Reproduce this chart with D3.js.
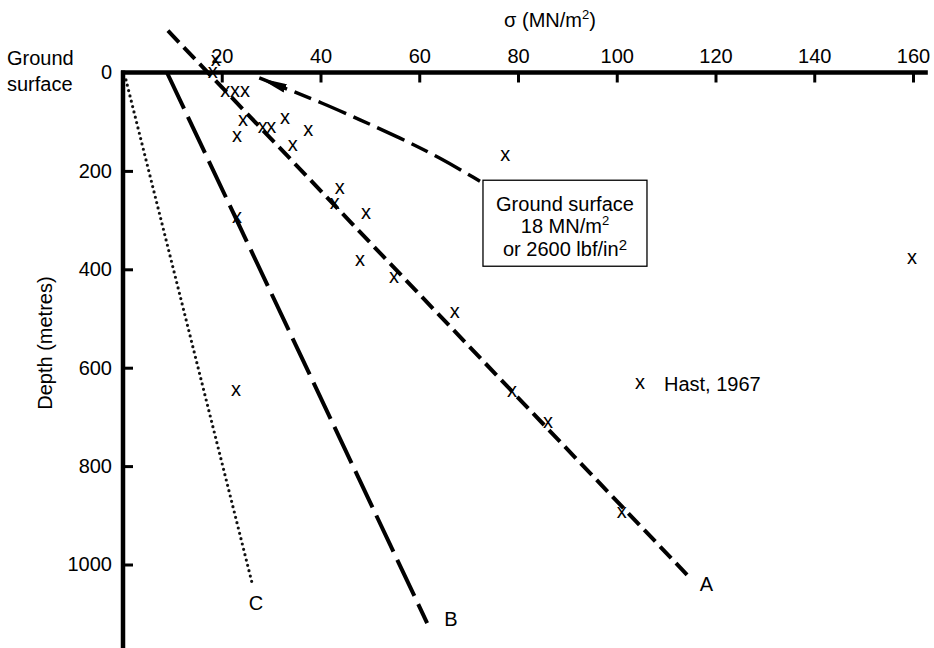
<!DOCTYPE html>
<html>
<head>
<meta charset="utf-8">
<script src="https://cdn.jsdelivr.net/npm/d3@7"></script>
<style>
  body { margin: 0; background: #fff; }
  svg { font-family: Arial, "Liberation Sans", Helvetica, sans-serif; }
</style>
</head>
<body>
<div id="chart"></div>
<script>
// stress ticks (top) and depth ticks (left)
const sigmaTicks = [20, 40, 60, 80, 100, 120, 140, 160]
const depthTicks = [0, 200, 400, 600, 800, 1000]

// measured points (sigma MN/m2, depth m)
const hastPoints = [
  [18.8, -25], [18.2, 0],
  [20.7, 39], [22.7, 39], [24.7, 39],
  [24.3, 97], [23.1, 130], [28.3, 112], [30.0, 112],
  [32.8, 94], [34.4, 148], [37.5, 118],
  [77.4, 169],
  [43.9, 235], [42.9, 266], [49.2, 286], [23.1, 294],
  [159.8, 378], [48.0, 382], [54.9, 416],
  [67.2, 487],
  [22.9, 646], [78.8, 648], [86.1, 711],
  [101.0, 895]
]

// trend lines
const lineA = [[9.1, -85], [115.2, 1031]]
const lineB = [[8.9, 0], [61.6, 1119]]
const lineC = [[0.6, 15], [26.3, 1044]]
// ground surface curve (arrow at its start)
const groundCurve = [[27.6, 11], [33.8, 36], [39.9, 60], [48.0, 96], [56.1, 133], [64.2, 173], [72.3, 221]]

const W = 934, H = 648
const FS = 20

const svg = d3.select("#chart").append("svg")
    .attr("width", W)
    .attr("height", H)

const x = d3.scaleLinear().domain([0, 160]).range([123, 913])
const y = d3.scaleLinear().domain([0, 1000]).range([72.5, 564.5])

// arrow marker for the ground surface curve (tip at the start point)
svg.append("defs").append("marker")
    .attr("id", "arrow")
    .attr("viewBox", "0 0 10 10")
    .attr("refX", 0)
    .attr("refY", 5)
    .attr("markerWidth", 8)
    .attr("markerHeight", 2.6)
    .attr("markerUnits", "strokeWidth")
    .attr("orient", "auto")
    .attr("preserveAspectRatio", "none")
    .append("path")
    .attr("d", "M0,5 L10,0 L10,10 Z")
    .attr("fill", "#000")

// axes
const topAxis = d3.axisTop(x).tickValues(sigmaTicks).tickFormat(d3.format("d"))
    .tickSize(-10).tickSizeOuter(0).tickPadding(10)
const gTop = svg.append("g").attr("transform", `translate(0,${y(0)})`).call(topAxis)
gTop.select(".domain").remove()
gTop.selectAll(".tick line").attr("stroke", "#000").attr("stroke-width", 3)
gTop.selectAll(".tick text").attr("font-size", FS).attr("fill", "#000")

const leftAxis = d3.axisLeft(y).tickValues(depthTicks).tickFormat(d3.format("d"))
    .tickSize(-10).tickSizeOuter(0).tickPadding(11)
const gLeft = svg.append("g").attr("transform", `translate(${x(0)},0)`).call(leftAxis)
gLeft.select(".domain").remove()
gLeft.selectAll(".tick line").attr("stroke", "#000").attr("stroke-width", 3)
    .filter(d => d === 0).remove()
gLeft.selectAll(".tick text").attr("font-size", FS).attr("fill", "#000")

// thick axis lines
svg.append("line")
    .attr("x1", x(0) - 2).attr("x2", x(163))
    .attr("y1", y(0)).attr("y2", y(0))
    .attr("stroke", "#000").attr("stroke-width", 4.5)
svg.append("line")
    .attr("x1", x(0)).attr("x2", x(0))
    .attr("y1", y(0) - 2).attr("y2", H)
    .attr("stroke", "#000").attr("stroke-width", 4.5)

// axis titles
svg.append("text")
    .attr("x", 550).attr("y", 27)
    .attr("text-anchor", "middle")
    .attr("font-size", FS)
    .html('σ (MN/m<tspan font-size="13" dy="-8">2</tspan><tspan dy="8">)</tspan>')

svg.append("text")
    .attr("transform", `translate(52,${y(550)}) rotate(-90)`)
    .attr("text-anchor", "middle")
    .attr("font-size", FS)
    .text("Depth (metres)")

svg.append("text").attr("x", 7).attr("y", 65).attr("font-size", FS).text("Ground")
svg.append("text").attr("x", 7).attr("y", 91).attr("font-size", FS).text("surface")

const line = d3.line().x(d => x(d[0])).y(d => y(d[1]))

// line C (dotted)
svg.append("path")
    .attr("d", line(lineC))
    .attr("fill", "none")
    .attr("stroke", "#111")
    .attr("stroke-width", 3.2)
    .attr("stroke-linecap", "round")
    .attr("stroke-dasharray", "0 5.5")

// line B (long dash)
svg.append("path")
    .attr("d", line(lineB))
    .attr("fill", "none")
    .attr("stroke", "#000")
    .attr("stroke-width", 4)
    .attr("stroke-dasharray", "40 9")

// line A (dash)
svg.append("path")
    .attr("d", line(lineA))
    .attr("fill", "none")
    .attr("stroke", "#000")
    .attr("stroke-width", 4)
    .attr("stroke-dasharray", "16 7")

// ground surface curve
svg.append("path")
    .attr("d", d3.line().x(d => x(d[0])).y(d => y(d[1])).curve(d3.curveBasis)(groundCurve))
    .attr("fill", "none")
    .attr("stroke", "#000")
    .attr("stroke-width", 3.5)
    .attr("stroke-dasharray", "30 8 18 8")
    .attr("marker-start", "url(#arrow)")

// line labels
const lbl = (t, px, py) => svg.append("text").attr("x", px).attr("y", py).attr("font-size", FS).text(t)
lbl("A", x(lineA[1][0]) + 8, y(lineA[1][1]) + 11)
lbl("B", x(lineB[1][0]) + 17, y(lineB[1][1]) + 3)
lbl("C", x(lineC[1][0]) - 4, y(lineC[1][1]) + 24)

// data crosses
svg.selectAll("text.pt")
    .data(hastPoints)
    .join("text")
    .attr("class", "pt")
    .attr("x", d => x(d[0]))
    .attr("y", d => y(d[1]))
    .attr("dy", "0.28em")
    .attr("text-anchor", "middle")
    .attr("font-size", FS)
    .text("x")

// key
const keyPt = [104.7, 631]
svg.append("text")
    .attr("x", x(keyPt[0])).attr("y", y(keyPt[1])).attr("dy", "0.28em")
    .attr("text-anchor", "middle").attr("font-size", FS).text("x")
svg.append("text")
    .attr("x", x(keyPt[0]) + 24).attr("y", y(keyPt[1])).attr("dy", "0.4em")
    .attr("font-size", FS).text("Hast, 1967")

// ground surface box
const bx = x(groundCurve[groundCurve.length - 1][0]) + 3
const by = y(groundCurve[groundCurve.length - 1][1]) - 1
svg.append("rect")
    .attr("x", bx).attr("y", by)
    .attr("width", 164).attr("height", 86)
    .attr("fill", "#fff")
    .attr("stroke", "#000")
    .attr("stroke-width", 1.3)
const cx = bx + 82
svg.append("text").attr("x", cx).attr("y", by + 31).attr("text-anchor", "middle").attr("font-size", FS)
    .text("Ground surface")
svg.append("text").attr("x", cx).attr("y", by + 53).attr("text-anchor", "middle").attr("font-size", FS)
    .html('18 MN/m<tspan font-size="13" dy="-8">2</tspan>')
svg.append("text").attr("x", cx).attr("y", by + 76).attr("text-anchor", "middle").attr("font-size", FS)
    .html('or 2600 lbf/in<tspan font-size="15" dy="-6">2</tspan>')
</script>
</body>
</html>
